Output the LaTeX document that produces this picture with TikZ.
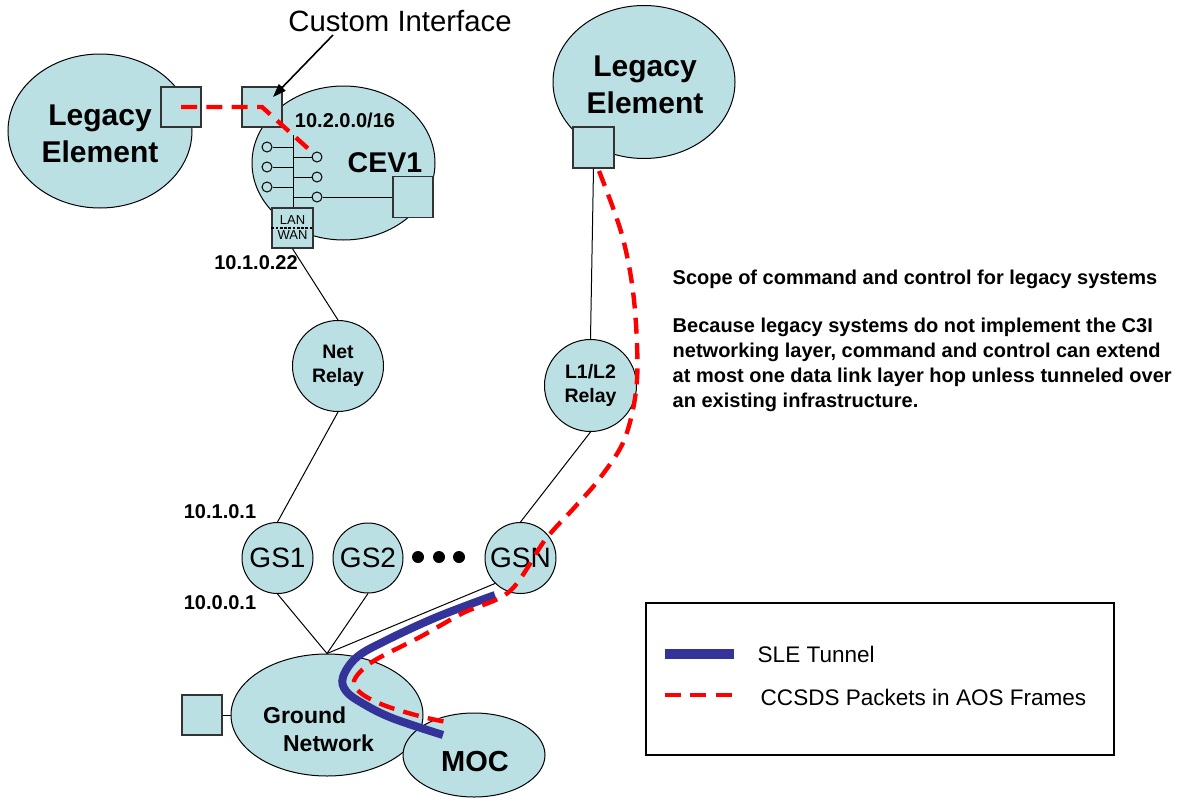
\documentclass[tikz,border=0pt]{standalone}
\usepackage{fontspec}
\setmainfont{Liberation Sans}
\usetikzlibrary{shapes.geometric,arrows.meta}
\definecolor{cellfill}{RGB}{187,224,227}
\definecolor{tunnelblue}{RGB}{51,51,153}
\definecolor{pktred}{RGB}{255,0,0}

\begin{document}
\begin{tikzpicture}[x=0.75pt,y=-0.75pt,
  blob/.style={ellipse,draw=black,line width=0.75pt,fill=cellfill,inner sep=0pt},
  disc/.style={circle,draw=black,line width=0.75pt,fill=cellfill,inner sep=0pt},
  port/.style={rectangle,draw=black!80,line width=1pt,fill=cellfill,inner sep=0pt,
               minimum width=30pt,minimum height=30pt},
  pin/.style={circle,draw=black,line width=0.75pt,fill=cellfill,inner sep=0pt,minimum size=7.5pt},
  wire/.style={draw=black,line width=0.75pt},
  pkt/.style={draw=pktred,line width=3.3pt,dash pattern=on 12pt off 7pt},
  tunnel/.style={draw=tunnelblue,line width=6pt},
  bigbold/.style={font=\bfseries\fontsize{22.5}{27.75}\selectfont,align=center},
  addr/.style={font=\bfseries\fontsize{15}{18}\selectfont},
  relaytxt/.style={font=\bfseries\fontsize{14.6}{18}\selectfont,align=center},
  gstxt/.style={font=\fontsize{21}{25}\selectfont},
  legtxt/.style={font=\fontsize{16.9}{20}\selectfont,anchor=west},
  note/.style={font=\bfseries\fontsize{15}{18.75}\selectfont,align=left,anchor=west},
  dot/.style={circle,fill=black,inner sep=0pt,minimum size=9pt}
]
\useasboundingbox (0,0) rectangle (1182,803);

% ---- left legacy element ----
\node[blob,minimum width=138pt,minimum height=115.5pt] (legL) at (100,131) {};
\node[bigbold] (legLlbl) at (100,134) {Legacy\\Element};
\node[port] (legLsq) at (181,107) {};

% ---- CEV1 ----
\node[blob,minimum width=137.25pt,minimum height=115.5pt] (cev) at (343.5,163) {};
\node[font=\bfseries\fontsize{21.4}{25}\selectfont] (cevlbl) at (385,163) {CEV1};
\node[addr] (cevnet) at (345,120) {10.2.0.0/16};

\coordinate (bustop) at (293,135);
\node[pin] (lp1) at (267,147) {};
\node[pin] (lp2) at (267,167) {};
\node[pin] (lp3) at (267,187) {};
\node[pin] (rp1) at (317,157) {};
\node[pin] (rp2) at (317,177) {};
\node[pin] (rp3) at (317,197) {};
\node[port,minimum height=30.75pt] (cevsq) at (413,197) {};
\node[port,minimum width=30.75pt,font=\fontsize{9.75}{11.25}\selectfont,align=center]
  (lanwan) at (292.5,228) {LAN\\WAN};
\draw[wire] (bustop) -- (bustop |- lanwan.north);
\foreach \p in {lp1,lp2,lp3} \draw[wire] (\p.east) -- (\p.east -| bustop);
\foreach \p in {rp1,rp2,rp3} \draw[wire] (\p.west) -- (\p.west -| bustop);
\draw[wire] (rp3.east) -- (cevsq.west);
\draw[black,line width=0.9pt,dash pattern=on 2pt off 1.2pt] (lanwan.west) -- (lanwan.east);
\node[addr] (wanaddr) at (256,263) {10.1.0.22};

% ---- custom interface ----
\node[port] (ci) at (262,107) {};
\node[font=\fontsize{22}{26}\selectfont] (citxt) at (400,21) {Custom Interface};
\coordinate (citail) at (333,35);
\coordinate (citip) at (273,97);
\draw[black,line width=1.2pt,-{Triangle[length=10pt,width=7pt]}] (citail) -- (citip);

% ---- right legacy element ----
\node[blob,minimum width=136.5pt,minimum height=114.75pt] (legR) at (644,82) {};
\node[bigbold] (legRlbl) at (645,85) {Legacy\\Element};
\node[port,minimum width=30.75pt,minimum height=30.75pt] (legRsq) at (593.5,147.5) {};

% ---- relays ----
\node[disc,minimum size=68.25pt,relaytxt] (netrelay) at (338,366) {Net\\Relay};
\node[disc,minimum size=69pt,relaytxt] (l1l2) at (590.5,385.5) {L1/L2\\Relay};

% ---- ground stations ----
\node[disc,minimum size=53.25pt,gstxt] (gs1) at (277.5,558) {GS1};
\node[disc,minimum size=52.5pt,gstxt] (gs2) at (368,558) {GS2};
\node[disc,minimum size=53.25pt,gstxt] (gsn) at (520.5,558) {GSN};
\node[dot] (d1) at (418,557) {};
\node[dot] (d2) at (439,557) {};
\node[dot] (d3) at (459,557) {};
\node[addr] (gsup) at (220,512) {10.1.0.1};
\node[addr] (gsdown) at (220,603) {10.0.0.1};

% ---- ground network and MOC ----
\node[blob,minimum width=144pt,minimum height=91.5pt] (gn) at (327,715) {};
\node[font=\bfseries\fontsize{17.25}{21}\selectfont,align=left] (gnlbl) at (318.5,729)
  {Ground\\\hspace*{15pt}Network};
\node[port] (gnsq) at (202,715) {};
\node[blob,minimum width=106.5pt,minimum height=63pt] (moc) at (474,755) {};
\node[font=\bfseries\fontsize{21.75}{25}\selectfont] (moclbl) at (475,762) {MOC};

% ---- links ----
\draw[wire] (lanwan.south) -- (netrelay.north);
\draw[wire] (netrelay.south) -- (gs1.north);
\draw[wire] (legRsq.south) -- (l1l2.north);
\draw[wire] (l1l2.south) -- (gsn.north);
\draw[wire] (gs1.south) -- (gn.north);
\draw[wire] (gs2.south) -- (gn.north);
\draw[wire] (gn.north) -- (gsn.225);
\draw[wire] (gnsq.east) -- (gn.west);

% ---- SLE tunnel ----
\coordinate (tunA) at (495,595);
\coordinate (tunB) at (443,735);
\draw[tunnel] plot[smooth,tension=0.6] coordinates
  {(tunA) (437,617) (387,640) (357,657) (343,677) (346,691) (362,703) (392,718) (tunB)};

% ---- packet paths ----
\draw[pkt] (legLsq.center) -- (ci.center) -- (rp1.north west);
\coordinate (pktA) at (599,171);
\coordinate (pktB) at (452,723);
\draw[pkt] plot[smooth,tension=0.55] coordinates
  {(pktA) (622,235) (634,300) (637,380) (625,438) (600,478) (574,508) (545,540)
   (510,591) (463,613) (420,637) (372,662) (354,681) (362,694) (386,706) (423,717) (pktB)};

% ---- notes ----
\node[note] (scope) at (668,279) {Scope of command and control for legacy systems};
\node[note] (because) at (668,364.5) {Because legacy systems do not implement the C3I\\
  networking layer, command and control can extend\\
  at most one data link layer hop unless tunneled over\\
  an existing infrastructure.};

% ---- legend ----
\node[draw=black,line width=1pt,minimum width=351pt,minimum height=114pt,inner sep=0pt]
  (legend) at (880,679) {};
\coordinate (lbA) at (665,654);
\coordinate (lbB) at (734,654);
\draw[draw=tunnelblue,line width=7.5pt] (lbA) -- (lbB);
\coordinate (lrA) at (665,695);
\coordinate (lrB) at (734,695);
\draw[pkt] (lrA) -- (lrB);
\node[legtxt] (lbt) at (753,654) {SLE Tunnel};
\node[legtxt] (lrt) at (756,697) {CCSDS Packets in AOS Frames};
\end{tikzpicture}
\end{document}
